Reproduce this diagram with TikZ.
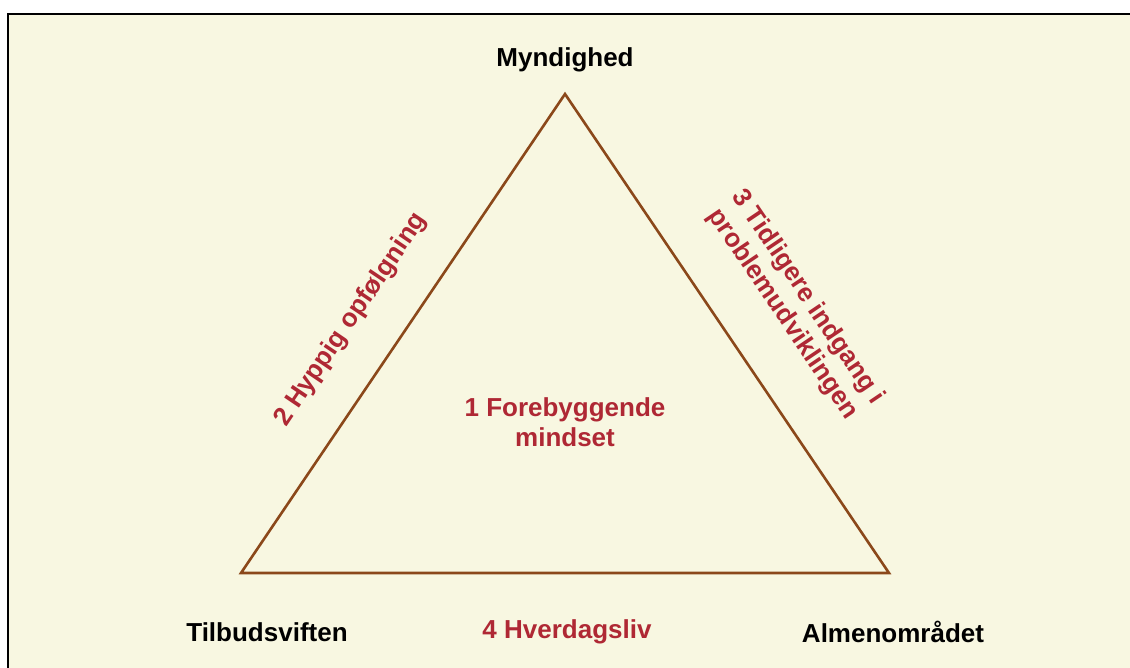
\documentclass[tikz,border=0pt]{standalone}
\usepackage{fontspec}
\setmainfont{Liberation Sans}
\usepackage{xcolor}
\usepackage{tikz}
\usetikzlibrary{positioning}
\definecolor{cream}{RGB}{248,247,225}
\definecolor{edgebrown}{RGB}{139,72,26}
\definecolor{labelred}{RGB}{175,40,52}

\begin{document}
\begin{tikzpicture}[x=0.5pt,y=-0.5pt,
  corner/.style={font=\bfseries\fontsize{13}{15}\selectfont, text=black, inner sep=0pt},
  theme/.style={font=\bfseries\fontsize{13}{15}\selectfont, text=labelred, align=center, inner sep=0pt}]
\useasboundingbox (0,0) rectangle (1130,668);
\clip (0,0) rectangle (1130,668);
\fill[white] (0,0) rectangle (1130,668);
\filldraw[fill=cream, draw=black, line width=1pt] (8,14) rectangle (1140,680);
% triangle
\coordinate (top) at (565,94);
\coordinate (left) at (241,573);
\coordinate (right) at (889,573);
\draw[edgebrown, line width=1.3pt] (top) -- (left) -- (right) -- cycle;
% corners
\node[corner] (myn) at (565,60) {Myndighed};
\node[corner] (tilb) at (267,632) {Tilbudsviften};
\node[corner] (almen) at (893,632) {Almenområdet};
% themes
\node[theme] (t1) at (565,422) {1 Forebyggende\\mindset};
\node[theme, rotate=56] (t2) at (351,320) {2 Hyppig opfølgning};
\node[theme, rotate=-56] (t3) at (795,306) {3 Tidligere indgang i\\problemudviklingen};
\node[theme] (t4) at (567,632) {4 Hverdagsliv};
\end{tikzpicture}
\end{document}
